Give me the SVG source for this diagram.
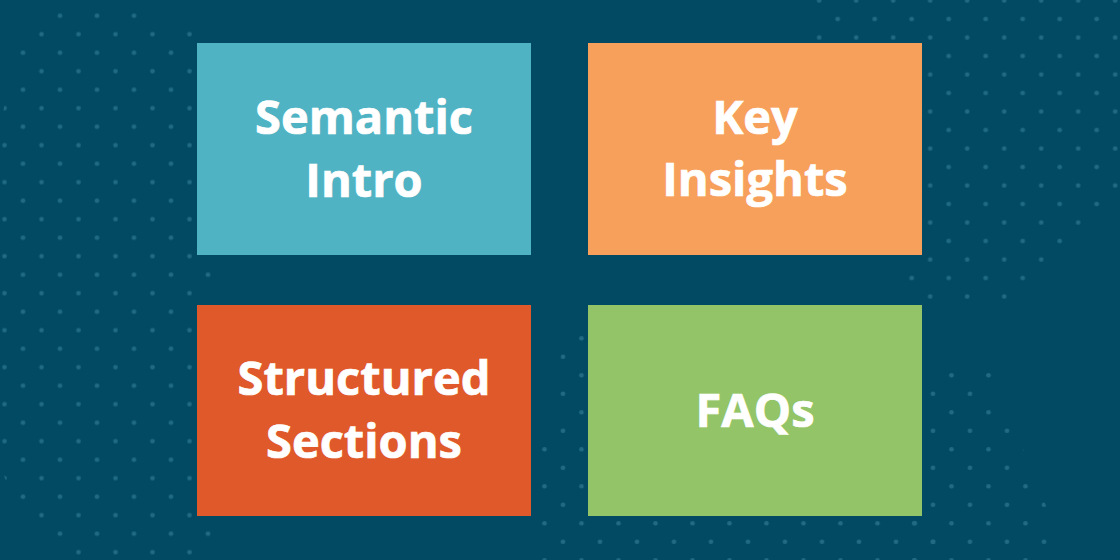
<svg xmlns="http://www.w3.org/2000/svg" width="1120" height="560" viewBox="0 0 1120 560">
  <style>
    .bg { fill: #024a63; }
    .dot { fill: #216a84; }
    .box { stroke: none; }
    .label { font-family: "Open Sans", "Noto Sans", "Liberation Sans", sans-serif; font-weight: 700; font-size: 47px; fill: #ffffff; stroke: #ffffff; stroke-width: 0.7px; text-anchor: middle; }
  </style>
  <defs>
    <pattern id="dotsA" patternUnits="userSpaceOnUse" x="13.75" y="6.45" width="37" height="37">
      <circle class="dot" cx="9.25" cy="9.25" r="2.3"/>
      <circle class="dot" cx="27.75" cy="27.75" r="2.3"/>
    </pattern>
    <pattern id="dotsB" patternUnits="userSpaceOnUse" x="14.45" y="9.75" width="37" height="37">
      <circle class="dot" cx="9.25" cy="9.25" r="2.3"/>
      <circle class="dot" cx="27.75" cy="27.75" r="2.3"/>
    </pattern>
    <pattern id="dotsD" patternUnits="userSpaceOnUse" x="535.25" y="514.05" width="37" height="37">
      <circle class="dot" cx="9.25" cy="9.25" r="2.3"/>
      <circle class="dot" cx="27.75" cy="27.75" r="2.3"/>
    </pattern>
  </defs>

  <rect class="bg" x="0" y="0" width="1120" height="560"/>

  <g id="background-dots">
    <polygon fill="url(#dotsA)" points="40,0 135,5 195,30 215,30 215,560 70,560 40,535 15,505 0,465 0,130 15,45"/>
    <polygon fill="url(#dotsB)" points="815,0 1120,0 1120,195 1010,305 900,305 900,45 815,45"/>
    <polygon fill="url(#dotsD)" points="925,368 990,368 1060,540 1060,560 905,560 905,515"/>
    <polygon fill="url(#dotsD)" points="578,332 600,332 600,515 940,515 940,560 538,560 540,445 562,350"/>
  </g>

  <g id="node-semantic-intro">
    <rect class="box" x="197" y="43" width="334" height="212" fill="#50b3c4"/>
    <text class="label" x="364" y="134">Semantic</text>
    <text class="label" x="364" y="197">Intro</text>
  </g>

  <g id="node-key-insights">
    <rect class="box" x="588" y="43" width="334" height="212" fill="#f7a05b"/>
    <text class="label" x="755" y="134">Key</text>
    <text class="label" x="755" y="196">Insights</text>
  </g>

  <g id="node-structured-sections">
    <rect class="box" x="197" y="305" width="334" height="211" fill="#e0592a"/>
    <text class="label" x="364" y="395">Structured</text>
    <text class="label" x="364" y="458">Sections</text>
  </g>

  <g id="node-faqs">
    <rect class="box" x="588" y="305" width="334" height="211" fill="#93c467"/>
    <text class="label" x="755" y="427">FAQs</text>
  </g>

  <g id="connectors"></g>
</svg>
